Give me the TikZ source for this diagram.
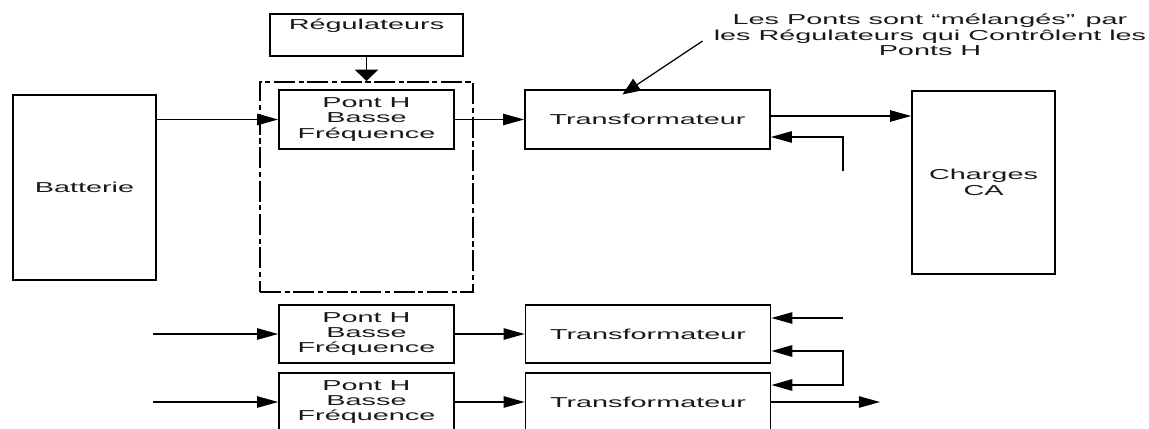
\documentclass[tikz,border=0pt]{standalone}
\usepackage{fontspec}
\setmainfont[FakeStretch=2.0]{Liberation Sans}
\usetikzlibrary{arrows.meta, positioning, calc}

\begin{document}
\begin{tikzpicture}[
    x=0.02cm, y=-0.02cm,
    box/.style={draw, line width=1pt, align=center, inner sep=0pt},
    pont/.style={box, minimum width=3.5cm, minimum height=1.17cm},
    trans/.style={box, minimum width=4.9cm, minimum height=1.17cm},
    frame/.style={draw, line width=1pt, dash pattern=on 12pt off 2pt on 3pt off 2pt, minimum width=4.26cm, minimum height=4.2cm},
    arr/.style={-{Triangle[length=12pt, width=6.5pt]}, line width=0.7pt},
    arrv/.style={-{Triangle[length=6.5pt, width=13pt]}, line width=1pt},
    arrd/.style={-{Triangle[length=10pt, width=8pt]}, line width=0.7pt},
    arrb/.style={{Triangle[length=12pt, width=6.5pt]}-{Triangle[length=12pt, width=6.5pt]}, line width=1pt},
    every node/.style={font=\fontsize{8.2}{8.8}\selectfont, text=black!90}
]
    \useasboundingbox (0,0) rectangle (1149,429);

    % upper chain
    \node[box, minimum width=3.86cm, minimum height=0.84cm,
          label={[anchor=north, inner sep=3pt]north:Régulateurs}] (reg) at (366.5,35) {};
    \node[frame] (cadre) at (366.5,187) {};
    \node[pont] (pont1) at (366.5,119.5) {Pont H\\Basse\\Fréquence};
    \node[trans] (trans1) at (647.5,119.5) {Transformateur};
    \node[box, minimum width=2.86cm, minimum height=3.7cm] (batt) at (84.5,187.5) {Batterie};
    \node[box, minimum width=2.86cm, minimum height=3.66cm] (charges) at (983.5,182.5) {Charges\\CA};

    % note
    \node[align=center] (note) at (930,35) {Les Ponts sont “mélangés”\, par\\les Régulateurs qui Contrôlent les\\Ponts H};

    % lower chains
    \node[pont] (pont2) at (366.5,334) {Pont H\\Basse\\Fréquence};
    \node[trans] (trans2) at (648,334) {Transformateur};
    \node[pont] (pont3) at (366.5,402) {Pont H\\Basse\\Fréquence};
    \node[trans] (trans3) at (648,402) {Transformateur};

    % free ends
    \coordinate (fb1) at (843,171);
    \coordinate (fb2) at (843,318);
    \coordinate (in2) at (153,334);
    \coordinate (in3) at (153,402);
    \coordinate (out3) at (880,402);
    \coordinate (o1) at ([yshift=0.07cm]trans1.east);

    % arrows
    \draw[arrv] (reg.south) -- (cadre.north);
    \draw[arr] (batt.east |- pont1.west) -- (pont1.west);
    \draw[arr] (pont1.east) -- (trans1.west);
    \draw[arr] (o1) -- (o1 -| charges.west);
    \draw[arr] (fb1) |- ([yshift=-0.35cm]trans1.east);
    \draw[arrd] ([xshift=-0.1cm, yshift=-0.12cm]note.west) -- ([xshift=-0.5cm, yshift=-0.1cm]trans1.north);

    \draw[arr] (in2) -- (pont2.west);
    \draw[arr] (in3) -- (pont3.west);
    \draw[arr] (pont2.east) -- (trans2.west);
    \draw[arr] (pont3.east) -- (trans3.west);
    \draw[arr] (fb2) -- (fb2 -| trans2.east);
    \draw[arrb] ([yshift=-0.34cm]trans2.east) -- ++(72,0) |- ([yshift=0.34cm]trans3.east);
    \draw[arr] (trans3.east) -- (out3);
\end{tikzpicture}
\end{document}
